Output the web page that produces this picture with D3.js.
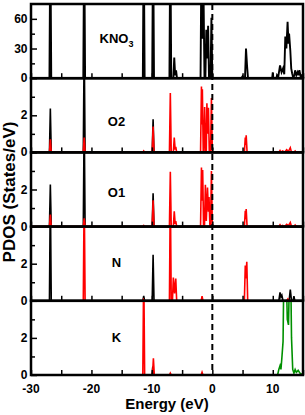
<!DOCTYPE html>
<html><head><meta charset="utf-8">
<script src="https://cdn.jsdelivr.net/npm/d3@7"></script>
<style>
html,body{margin:0;padding:0;background:#fff;}
svg{display:block;font-family:"Liberation Sans",Arial,Helvetica,sans-serif;font-weight:bold;}
</style></head><body>
<svg id="c" width="305" height="415"></svg>
<script>
// ---------- data ----------
const energyDomain = [-30, 15];
const energyTickLabels = [-30, -20, -10, 0, 10];
const energyTicks = [-30, -25, -20, -15, -10, -5, 0, 5, 10, 15];
const panelNames = ["KNO3", "O2", "O1", "N", "K"];
const panelYMax = [75, 4, 4, 4, 4];
const panelYLabels = [[0, 30, 60], [0, 2], [0, 2], [0, 2], [0, 2]];
const panelYMinor = [[15, 45], [1, 3], [1, 3], [1, 3], [1, 3]];

// KNO3 total DOS (black)
const knoTotal = [[-30,0],[-26.95,0],[-26.8,150],[-26.65,0],[-21.35,0],[-21.2,150],[-21.05,0],
  [-11.5,0],[-11.35,150],[-11.2,0],[-9.95,0],[-9.8,150],[-9.65,0],
  [-7.1,0],[-6.95,150],[-6.8,0],[-6.45,0],[-6.3,21],[-6.15,3],[-6.0,8],[-5.85,0],
  [-1.95,0],[-1.8,130],[-1.65,40],[-1.5,110],[-1.3,0],[-1.15,0],[-1.0,49],[-0.85,20],[-0.7,53],[-0.55,0],
  [-0.3,0],[-0.15,61],[0,0],
  [4.8,0],[5.0,2],[5.2,0],[5.4,0],[5.57,30],[5.75,12],[5.9,0],
  [9.9,0],[10.0,6],[10.1,0],[10.6,0],[10.7,3],[10.9,1],[11.2,13],[11.45,6],[11.7,10],[11.9,4],
  [12.07,42],[12.25,30],[12.45,57],[12.6,35],[12.7,45],[12.9,28],[13.05,10],[13.2,5],[13.4,0],
  [13.6,4],[13.7,8],[13.9,3],[14.1,6],[14.25,3],[14.4,8],[14.6,2],[14.8,3],[15,0]];

// O2 s (black) and p (red)
const o2S = [[-30,0],[-26.95,0],[-26.8,2.36],[-26.65,0],[-21.35,0],[-21.2,6],[-21.05,0],
  [-9.95,0],[-9.8,1.78],[-9.65,0],[15,0]];
const o2P = [[-30,0],[-26.95,0],[-26.8,0.7],[-26.65,0],[-21.35,0],[-21.2,0.8],[-21.05,0],
  [-11.5,0],[-11.35,0.08],[-11.2,0],[-9.95,0],[-9.8,1.4],[-9.65,0],
  [-7.1,0],[-6.95,3.2],[-6.8,0],[-6.45,0],[-6.3,0.8],[-6.15,0.15],[-6.05,0.3],[-5.9,0],
  [-1.95,0],[-1.8,3.55],[-1.72,1.5],[-1.65,3.4],[-1.5,0],[-1.4,0],[-1.27,2.45],[-1.1,0],
  [-1.0,0],[-0.9,2.65],[-0.78,1.0],[-0.65,2.4],[-0.5,0],[-0.3,0],[-0.15,2.93],[0,0],
  [5.3,0],[5.45,0.8],[5.52,0.4],[5.6,0.92],[5.75,0],
  [11.0,0],[11.2,0.1],[11.4,0],[11.6,0.08],[12.0,0.02],[12.3,0.15],[12.6,0.05],[12.9,0.25],[13.1,0],
  [13.5,0],[13.7,0.08],[13.9,0],[15,0]];

// O1 s (black) and p (red)
const o1S = [[-30,0],[-26.95,0],[-26.8,2.27],[-26.65,0],[-21.35,0],[-21.2,6],[-21.05,0],
  [-9.95,0],[-9.8,1.8],[-9.65,0],[15,0]];
const o1P = [[-30,0],[-26.95,0],[-26.8,0.65],[-26.65,0],[-21.35,0],[-21.2,0.45],[-21.05,0],
  [-11.5,0],[-11.35,0.06],[-11.2,0],[-9.95,0],[-9.8,1.42],[-9.65,0],
  [-7.1,0],[-6.95,2.96],[-6.8,0],[-6.45,0],[-6.3,0.83],[-6.15,0.15],[-6.05,0.3],[-5.9,0],
  [-1.95,0],[-1.8,3.18],[-1.72,1.4],[-1.6,3.05],[-1.45,0],[-1.3,0],[-1.15,2.25],[-1.0,0.3],
  [-0.8,2.1],[-0.65,0.8],[-0.55,1.6],[-0.4,0],[-0.3,0],[-0.15,3.0],[0,0],
  [5.3,0],[5.45,0.85],[5.52,0.4],[5.6,0.95],[5.75,0],
  [11.0,0],[11.2,0.1],[11.4,0],[11.6,0.06],[12.0,0.02],[12.3,0.12],[12.6,0.05],[12.9,0.22],[13.1,0],
  [13.5,0],[13.7,0.08],[13.9,0],[15,0]];

// N s (black) and p (red)
const nS = [[-30,0],[-26.95,0],[-26.8,6],[-26.65,0],[-11.5,0],[-11.35,0.26],[-11.2,0],
  [-9.95,0],[-9.8,2.48],[-9.65,0],
  [11.0,0],[11.2,0.45],[11.35,0.2],[11.5,0.3],[11.7,0],[12.7,0],[12.9,0.6],[13.1,0],[13.35,0],[13.5,0.25],[13.65,0],[15,0]];
const nP = [[-30,0],[-21.35,0],[-21.2,6],[-21.05,0],[-11.55,0],[-11.4,0.08],[-11.25,0],
  [-7.1,0],[-6.95,6],[-6.8,0],[-6.6,0],[-6.45,1.25],[-6.25,0.4],[-6.05,1.2],[-5.9,0],
  [-1.85,0],[-1.7,0.25],[-1.55,0],
  [5.3,0],[5.45,1.9],[5.55,1.2],[5.7,2.1],[5.85,0],
  [12.3,0],[12.5,0.1],[12.7,0],[15,0]];

// K s (black), p (red), d (green)
const kS = [[-30,0],[-10.0,0],[-9.85,0.45],[-9.7,0],[15,0]];
const kP = [[-30,0],[-11.5,0],[-11.35,6],[-11.2,0],[-9.9,0],[-9.75,0.9],[-9.6,0],
  [-7.1,0],[-6.95,0.1],[-6.8,0],[-1.85,0],[-1.7,0.15],[-1.55,0],[15,0]];
const kD = [[-30,0],[10.8,0],[11.0,0.3],[11.2,0.5],[11.35,0.3],[11.5,0.9],[11.7,1.8],[11.85,6],
  [12.0,5],[12.2,6],[12.4,3],[12.6,2.7],[12.8,6],[12.95,6],[13.1,2],[13.3,0.3],[13.5,0.1],
  [13.7,0.3],[13.9,0.15],[14.2,0.25],[14.5,0.1],[14.8,0.05],[15,0]];

const panelSeries = [
  [{d: knoTotal, c: "#000000"}],
  [{d: o2S, c: "#000000"}, {d: o2P, c: "#ff0000"}],
  [{d: o1S, c: "#000000"}, {d: o1P, c: "#ff0000"}],
  [{d: nS, c: "#000000"}, {d: nP, c: "#ff0000"}],
  [{d: kS, c: "#000000"}, {d: kP, c: "#ff0000"}, {d: kD, c: "#009000"}]
];

// ---------- layout ----------
const svg = d3.select("#c");
const L = 31, R = 303, T = 4, B = 375;
const nPanels = panelNames.length;
const pH = (B - T) / nPanels;
const x = d3.scaleLinear().domain(energyDomain).range([L, R]);
const labelBaseline = [39, 48, 45, 40, 41.5];

panelNames.forEach((name, i) => {
  const top = T + i * pH, bot = top + pH;
  const y = d3.scaleLinear().domain([0, panelYMax[i]]).range([bot, top]);
  const g = svg.append("g");
  const cid = "clip" + i;
  svg.append("clipPath").attr("id", cid).append("rect")
    .attr("x", L).attr("y", top).attr("width", R - L).attr("height", pH);
  const line = d3.line().x(d => x(d[0])).y(d => y(d[1]));
  const dg = g.append("g").attr("clip-path", `url(#${cid})`);
  panelSeries[i].forEach(s => {
    dg.append("path").attr("d", line(s.d)).attr("fill", "none")
      .attr("stroke", s.c).attr("stroke-width", i === 0 ? 1.9 : 1.6)
      .attr("stroke-linejoin", "miter");
  });
  // y axis ticks (inward)
  const yAx = d3.axisRight(y).tickValues(panelYLabels[i]).tickSize(6).tickFormat("");
  g.append("g").attr("transform", `translate(${L},0)`).call(yAx)
    .call(a => a.select(".domain").remove())
    .selectAll("line").attr("stroke", "#000").attr("stroke-width", 1.5);
  const yMin = d3.axisRight(y).tickValues(panelYMinor[i]).tickSize(4).tickFormat("");
  g.append("g").attr("transform", `translate(${L},0)`).call(yMin)
    .call(a => a.select(".domain").remove())
    .selectAll("line").attr("stroke", "#000").attr("stroke-width", 1.5);
  // y labels
  panelYLabels[i].forEach(v => {
    g.append("text").attr("x", 27.5).attr("y", y(v)).attr("dy", "0.34em")
      .attr("text-anchor", "end").attr("font-size", 12).text(v);
  });
  // x ticks at panel bottom (inward)
  const xAx = d3.axisTop(x).tickValues(energyTicks).tickSize(5).tickFormat("");
  g.append("g").attr("transform", `translate(0,${bot})`).call(xAx)
    .call(a => a.select(".domain").remove())
    .selectAll("line").attr("stroke", "#000").attr("stroke-width", 1.5);
  // frame
  g.append("rect").attr("x", L).attr("y", top).attr("width", R - L).attr("height", pH)
    .attr("fill", "none").attr("stroke", "#000").attr("stroke-width", 2.5);
  // panel label
  const t = g.append("text").attr("x", 116.5).attr("y", top + labelBaseline[i])
    .attr("text-anchor", "middle").attr("font-size", 13);
  if (name === "KNO3") {
    t.append("tspan").text("KNO");
    t.append("tspan").attr("font-size", 9).attr("dy", 4).text("3");
  } else t.text(name);
});

// Fermi level dashed line
svg.append("line").attr("x1", x(0)).attr("x2", x(0)).attr("y1", T).attr("y2", B)
  .attr("stroke", "#000").attr("stroke-width", 2).attr("stroke-dasharray", "6,4");

// x tick labels
energyTickLabels.forEach(v => {
  svg.append("text").attr("x", x(v)).attr("y", 392.5).attr("text-anchor", "middle")
    .attr("font-size", 12).text(v);
});
// axis titles
svg.append("text").attr("x", (L + R) / 2).attr("y", 408.5).attr("text-anchor", "middle")
  .attr("font-size", 15).text("Energy (eV)");
svg.append("text").attr("transform", `translate(15,${192}) rotate(-90)`)
  .attr("text-anchor", "middle").attr("font-size", 17).text("PDOS (States/eV)");
</script>
</body></html>
